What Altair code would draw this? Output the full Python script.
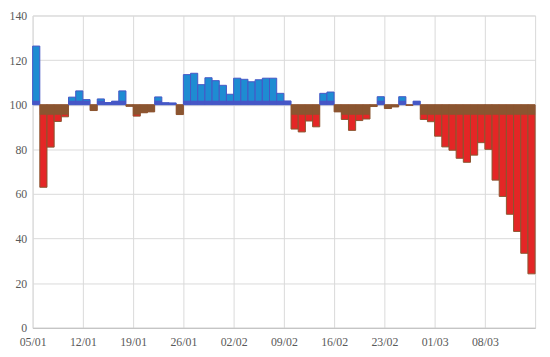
import json
import altair as alt
import numpy as np
import pandas as pd

# Weekly tick labels (every 7th day starting 05/01)
week_labels = ["05/01", "12/01", "19/01", "26/01", "02/02",
               "09/02", "16/02", "23/02", "01/03", "08/03"]

# Daily index values, 05/01 .. 14/03 (70 days), baseline 100
values = [
    126.3, 63.0, 81.0, 92.5, 94.6, 103.4, 106.2, 102.3, 97.4, 102.6,
    101.0, 101.6, 106.2, 99.3, 94.9, 96.4, 96.8, 103.5, 100.9, 100.8,
    95.6, 113.5, 114.1, 109.0, 112.1, 110.8, 108.7, 104.7, 111.9, 111.4,
    110.3, 111.2, 111.9, 111.9, 105.1, 101.7, 89.1, 87.8, 92.7, 90.1,
    105.1, 105.7, 96.8, 93.4, 88.5, 92.9, 93.6, 99.2, 103.6, 98.3,
    99.0, 103.6, 99.7, 101.6, 93.4, 92.4, 85.9, 81.1, 79.6, 76.0,
    74.2, 77.4, 83.0, 80.0, 66.2, 58.9, 50.9, 43.2, 33.4, 24.2,
]
BASE = 100
y_ticks = [0, 20, 40, 60, 80, 100, 120, 140]

df = pd.DataFrame({"day": list(range(len(values))), "value": values})
df["day_end"] = df["day"] + 1
df["base"] = BASE
df["band"] = np.where(df["value"] >= BASE,
                      np.minimum(df["value"], BASE + 1.8),
                      np.maximum(df["value"], BASE - 4.5))

FONT = "Liberation Serif"
LABEL = "#595959"
GRID = "#d9d9d9"
is_up = "datum.value >= 100"

x_enc = alt.X(
    "day:Q",
    scale=alt.Scale(domain=[0, len(values)], nice=False, zero=False),
    axis=alt.Axis(
        values=[7 * i for i in range(len(week_labels))],
        labelExpr=json.dumps(week_labels) + "[round(datum.value / 7)]",
        title=None, grid=True, gridColor=GRID, ticks=False,
        domain=True, domainColor="#bfbfbf", labelFlush=False,
        labelFont=FONT, labelFontSize=12, labelColor=LABEL, labelPadding=9,
    ),
)
y_enc = alt.Y(
    "value:Q",
    scale=alt.Scale(domain=[0, 140], nice=False),
    axis=alt.Axis(
        values=y_ticks, title=None, grid=True, gridColor=GRID, ticks=False,
        domain=False, labelFont=FONT, labelFontSize=12, labelColor=LABEL,
        labelPadding=6, labelFlush=False,
    ),
)

bars = alt.Chart().mark_bar(strokeWidth=1).encode(
    x=x_enc,
    x2="day_end:Q",
    y=y_enc,
    y2="base:Q",
    fill=alt.condition(is_up, alt.value("#1E8CD2"), alt.value("#E42626")),
    stroke=alt.condition(is_up, alt.value("#4656C6"), alt.value("#8A5530")),
)

band = alt.Chart().mark_bar(strokeWidth=0).encode(
    x="day:Q",
    x2="day_end:Q",
    y="band:Q",
    y2="base:Q",
    fill=alt.condition(is_up, alt.value("#4656C6"), alt.value("#8A5530")),
)

chart = (
    alt.layer(bars, band, data=df)
    .properties(
        width=510, height=317,
        padding={"left": 25, "top": 5, "right": 7, "bottom": 27},
        autosize=alt.AutoSizeParams(type="none"),
        background="white",
    )
    .configure_view(stroke=GRID)
)

chart.save("out.html", embed_options={"renderer": "svg", "actions": False})
